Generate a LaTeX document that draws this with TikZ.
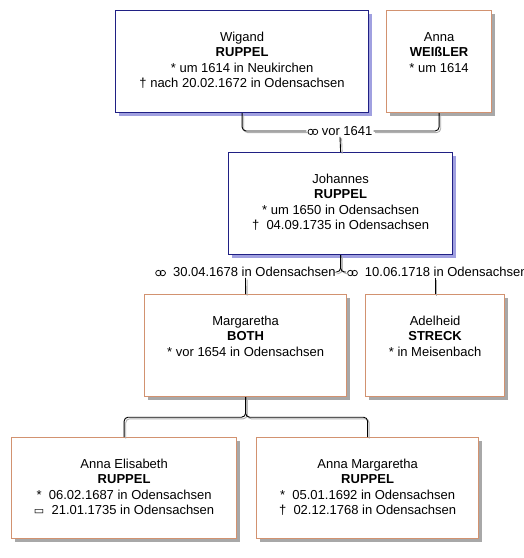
\documentclass[tikz,border=0pt]{standalone}
\usepackage{fontspec}
\setmainfont{Liberation Sans}
\newfontfamily\symf{DejaVu Sans}
\usetikzlibrary{calc}
\definecolor{navy}{RGB}{32,32,132}
\definecolor{navyshadow}{RGB}{160,160,224}
\definecolor{orangeb}{RGB}{210,146,112}
\definecolor{grayshadow}{RGB}{168,168,168}
\definecolor{connshadow}{RGB}{175,175,175}
\newcommand\marr{\tikz[baseline=0pt]{\draw[line width=0.75pt] (3pt,3.6pt) circle[radius=2.7pt] (7.4pt,3.6pt) circle[radius=2.7pt];}}
\newcommand\bur{{\symf\fontsize{11}{12}\selectfont ▭}}
\tikzset{
  pbox/.style={fill=white, line width=1.2pt, inner sep=0pt, anchor=north west},
  malebox/.style={pbox, draw=navy, preaction={draw=none, fill=navyshadow, transform canvas={shift={(3pt,-3pt)}}}},
  femalebox/.style={pbox, draw=orangeb, preaction={draw=none, fill=grayshadow, transform canvas={shift={(3pt,-3pt)}}}},
  ptext/.style={anchor=base, align=center, inner sep=0pt, font=\fontsize{13}{15.2}\selectfont},
  mlabel/.style={fill=white, inner sep=1pt, font=\fontsize{13}{15}\selectfont},
  conn/.style={line width=0.9pt, rounded corners=4pt, preaction={draw=connshadow, line width=0.9pt, transform canvas={shift={(1.6pt,-1.6pt)}}}}
}
\begin{document}
\begin{tikzpicture}[x=1pt,y=-1pt]
\useasboundingbox (0,0) rectangle (524,558);
% person boxes
\node[malebox, minimum width=253pt, minimum height=102pt] (w) at (115,10) {};
\node[femalebox, minimum width=105pt, minimum height=102pt] (a) at (386,10) {};
\node[malebox, minimum width=224pt, minimum height=102pt] (j) at (228,152) {};
\node[femalebox, minimum width=202pt, minimum height=102pt] (m) at (144,294) {};
\node[femalebox, minimum width=139pt, minimum height=102pt] (ad) at (365,294) {};
\node[femalebox, minimum width=225pt, minimum height=101pt] (ae) at (11,437) {};
\node[femalebox, minimum width=222pt, minimum height=101pt] (am) at (256,437) {};
% texts (anchor base = baseline of the last line)
\node[ptext] (wt) at ($(w.north)+(0,77.3)$) {Wigand\\\textbf{RUPPEL}\\* um 1614 in Neukirchen\\† nach 20.02.1672 in Odensachsen};
\node[ptext] (at) at ($(a.north)+(0,62.1)$) {Anna\\\textbf{WEIßLER}\\* um 1614};
\node[ptext] (jt) at ($(j.north)+(0,77.3)$) {Johannes\\\textbf{RUPPEL}\\* um 1650 in Odensachsen\\†\ \ 04.09.1735 in Odensachsen};
\node[ptext] (mt) at ($(m.north)+(0,62.1)$) {Margaretha\\\textbf{BOTH}\\* vor 1654 in Odensachsen};
\node[ptext] (adt) at ($(ad.north)+(0,62.1)$) {Adelheid\\\textbf{STRECK}\\* in Meisenbach};
\node[ptext] (aet) at ($(ae.north)+(0,77.3)$) {Anna Elisabeth\\\textbf{RUPPEL}\\*\ \ 06.02.1687 in Odensachsen\\\bur\ \ 21.01.1735 in Odensachsen};
\node[ptext] (amt) at ($(am.north)+(0,77.3)$) {Anna Margaretha\\\textbf{RUPPEL}\\*\ \ 05.01.1692 in Odensachsen\\†\ \ 02.12.1768 in Odensachsen};
% marriage labels
\node[mlabel] (m1) at (340,131) {\marr\ vor 1641};
\node[mlabel] (l1) at (245.5,272) {\marr\ \ 30.04.1678 in Odensachsen};
\node[mlabel, anchor=west] (l2) at (346,272) {\marr\ \ 10.06.1718 in Odensachsen};
\coordinate (split) at ($(m.south)+(0,20)$);
% connectors
\draw[conn] (w.south) |- (m1.west);
\draw[conn] (a.south) |- (m1.east);
\draw[conn] (m1.south) -- (j.north);
\draw[conn] (j.south) |- (l1.east);
\draw[conn] (j.south) |- (l2.west);
\draw[conn] (l1.south) -- (m.north);
\draw[conn] (ad.north |- l2.south) -- (ad.north);
\draw[conn] (m.south) -- (split) -| (ae.north);
\draw[conn] (m.south) -- (split) -| (am.north);
\end{tikzpicture}
\end{document}
